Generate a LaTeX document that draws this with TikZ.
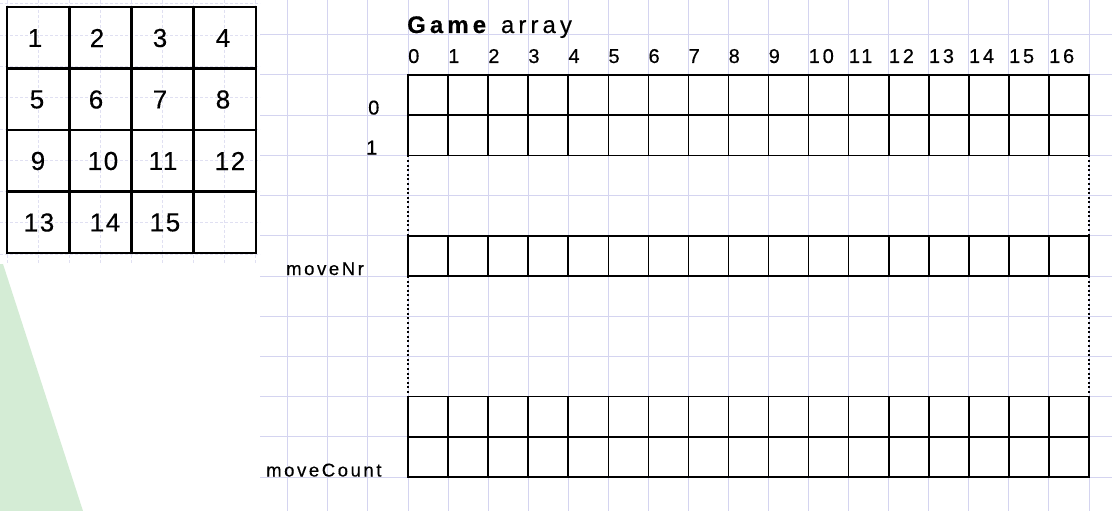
\documentclass[tikz,border=0pt]{standalone}
\usepackage{fontspec}
\setmainfont{Liberation Sans}
\newfontfamily\spct[LetterSpace=17,FakeBold=0.3]{Liberation Sans}
\newfontfamily\spc[LetterSpace=14,FakeBold=0.4]{Liberation Sans}
\newfontfamily\spcp[LetterSpace=6,FakeBold=0.4]{Liberation Sans}
\definecolor{bggrid}{RGB}{212,212,240}
\definecolor{pgrid}{RGB}{224,224,242}
\definecolor{greenbg}{RGB}{212,236,213}
\begin{document}
\begin{tikzpicture}[x=1pt,y=-1pt,
  bgline/.style={draw=bggrid,line width=1pt},
  pline/.style={draw=pgrid,line width=0.8pt,dash pattern=on 3pt off 2pt},
  cellline/.style={draw=black,line width=1.6pt},
  tileline/.style={draw=black,line width=2.6pt},
  dotline/.style={draw=black,line width=1.6pt,dash pattern=on 2pt off 2.6pt},
  lbl/.style={inner sep=0pt,anchor=base west,font=\spc\fontsize{18.5}{20}\selectfont},
  idx/.style={inner sep=0pt,anchor=base west,font=\spc\fontsize{20}{22}\selectfont},
  tile/.style={inner sep=0pt,font=\spcp\fontsize{26}{28}\selectfont},
]
\useasboundingbox (0,0) rectangle (1112,511);
\fill[white] (0,0) rectangle (1112,511);
% background grid
\begin{scope}
  \clip (260,0) rectangle (1112,511);
  \foreach \k in {-3,...,18} \draw[bgline] ({408+40.06*\k},0) -- ({408+40.06*\k},511);
  \foreach \j in {-1,...,11} \draw[bgline] (260,{75+40.2*\j}) -- (1112,{75+40.2*\j});
\end{scope}
% faint grid of the puzzle picture
\begin{scope}
  \clip (0,0) rectangle (260,263);
  \foreach \k in {0,...,8} \draw[pline] ({7+31.1*\k},0) -- ({7+31.1*\k},263);
  \foreach \j in {-1,...,7} \draw[pline] (0,{35+31.3*\j}) -- (260,{35+31.3*\j});
\end{scope}
% green shape
\fill[greenbg] (0,264) -- (3,264) -- (83,511) -- (0,511) -- cycle;
% puzzle
\foreach \xx in {69.2,131.5,193.7} \draw[tileline] (\xx,7) -- (\xx,253);
\foreach \yy in {68.5,130,191.5} \draw[tileline] (7,\yy) -- (256,\yy);
\draw[tileline] (7,7) rectangle (256,253);
\foreach \n/\cx/\cy in {1/35/38,2/97/38,3/160/38,4/223/38,
  5/37/99.5,6/96/99.5,7/160/99.5,8/223/99.5,
  9/38/161,10/103/161,11/163/161,12/230/161,
  13/39/222.5,14/105/222.5,15/165/222.5}
  \node[tile] (p\n) at (\cx,\cy) {\n};
% array
\foreach \t/\n in {75/2,235.8/1,396.6/2}
  \foreach \k in {0,...,16}
    \foreach \m in {1,...,\n}
      \draw[cellline] ({408+40.06*\k},{\t+40.2*(\m-1)}) rectangle ++(40.06,40.2);
\foreach \xx in {408,1089} {
  \draw[dotline] (\xx,155.4) -- (\xx,235.8);
  \draw[dotline] (\xx,276) -- (\xx,396.6);
}
% labels
\node[inner sep=0pt,anchor=base west,font=\spct\fontsize{24}{26}\selectfont] (title) at (407,33) {\textbf{Game} array};
\foreach \k in {0,...,16}
  \node[idx] (col\k) at ({408+40.06*\k},63) {\k};
\node[idx] (row0) at (368,114.5) {0};
\node[idx] (row1) at (366,154.5) {1};
\node[lbl] (moveNr) at (286,275) {moveNr};
\node[lbl] (moveCount) at (266,476.5) {moveCount};
\end{tikzpicture}
\end{document}
